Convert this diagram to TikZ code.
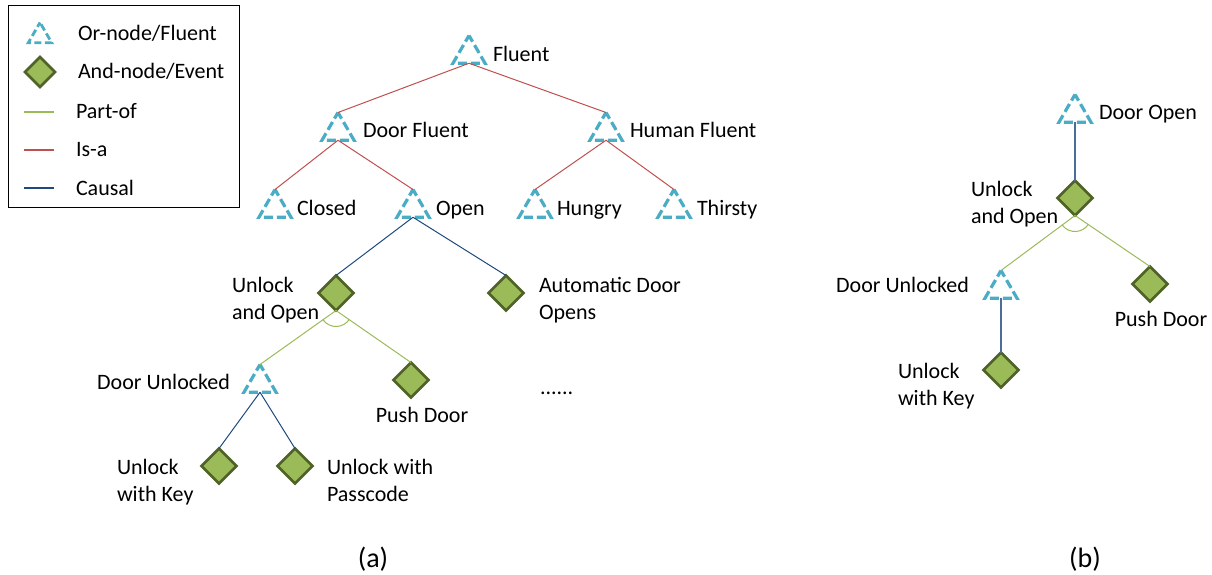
\documentclass[tikz,border=0pt]{standalone}
\usepackage{fontspec}
\setmainfont{Carlito}
\usetikzlibrary{shapes.geometric}
\definecolor{orcol}{HTML}{4BACC6}
\definecolor{andfill}{HTML}{9BBB59}
\definecolor{anddraw}{HTML}{4F6228}
\definecolor{isacol}{HTML}{C0504D}
\definecolor{causcol}{HTML}{1F497D}
\definecolor{partcol}{HTML}{9BBB59}
\begin{document}
\begin{tikzpicture}[x=1pt,y=-1pt,
  ornode/.style={regular polygon, regular polygon sides=3, minimum size=37pt, inner sep=0pt, outer sep=0pt, draw=orcol, line width=3.2pt, dash pattern=on 9pt off 4pt, dash phase=2pt},
  andnode/.style={diamond, minimum width=35pt, minimum height=35pt, inner sep=0pt, outer sep=0pt, draw=anddraw, fill=andfill, line width=2.8pt},
  lbl/.style={inner sep=0pt, outer sep=0pt, font=\fontsize{22}{27}\selectfont, align=left},
  captxt/.style={inner sep=0pt, outer sep=0pt, font=\fontsize{28}{32}\selectfont},
  isa/.style={draw=isacol, line width=1pt},
  causal/.style={draw=causcol, line width=1pt},
  partof/.style={draw=partcol, line width=1pt}]
\useasboundingbox (0,0) rectangle (1212,575);

% legend
\node[draw=black, line width=1pt, minimum width=231pt, minimum height=202pt, inner sep=0pt, anchor=north west] (legend) at (8,5) {};
\node[ornode, minimum size=27pt, line width=2.8pt, dash pattern=on 7pt off 3.5pt] (lgor) at (40,36) {};
\node[andnode, minimum width=30pt, minimum height=30pt] (lgand) at (40,72) {};
\coordinate (lgp1) at (24,112); \coordinate (lgp2) at (54,112);
\coordinate (lgi1) at (24,150); \coordinate (lgi2) at (54,150);
\coordinate (lgc1) at (24,188); \coordinate (lgc2) at (54,188);
\draw[partof, line width=1.6pt] (lgp1) -- (lgp2);
\draw[isa, line width=1.6pt] (lgi1) -- (lgi2);
\draw[causal, line width=1.6pt] (lgc1) -- (lgc2);
\node[lbl, anchor=base west] (lgort) at (78,41) {Or-node/Fluent};
\node[lbl, anchor=base west] (lgandt) at (78,79) {And-node/Event};
\node[lbl, anchor=base west] (lgpt) at (76,119) {Part-of};
\node[lbl, anchor=base west] (lgit) at (76,157) {Is-a};
\node[lbl, anchor=base west] (lgct) at (76,195) {Causal};

% tree (a)
\node[ornode] (fluent) at (469,54) {};
\node[ornode] (doorfl) at (338,131) {};
\node[ornode] (humanfl) at (606,131) {};
\node[ornode] (closed) at (275,208) {};
\node[ornode] (open) at (413,208) {};
\node[ornode] (hungry) at (535,208) {};
\node[ornode] (thirsty) at (674,208) {};
\node[andnode] (uo) at (336,293) {};
\node[andnode] (auto) at (506,293) {};
\node[ornode] (du) at (260,383) {};
\node[andnode] (push) at (411,380) {};
\node[andnode] (key) at (219,466) {};
\node[andnode] (pass) at (295,466) {};

\node[lbl, anchor=base west] (fluentT) at (493,62) {Fluent};
\node[lbl, anchor=base west] (doorflT) at (363,138) {Door Fluent};
\node[lbl, anchor=base west] (humanflT) at (630,138) {Human Fluent};
\node[lbl, anchor=base west] (closedT) at (297,215) {Closed};
\node[lbl, anchor=base west] (openT) at (436,215) {Open};
\node[lbl, anchor=base west] (hungryT) at (557,215) {Hungry};
\node[lbl, anchor=base west] (thirstyT) at (697,215) {Thirsty};
\node[lbl, anchor=base west] (uoT) at (232,319) {Unlock\\and Open};
\node[lbl, anchor=base west] (autoT) at (539,319) {Automatic Door\\Opens};
\node[lbl, anchor=base east] (duT) at (230,389) {Door Unlocked};
\node[lbl, anchor=base] (pushT) at (422,422) {Push Door};
\node[lbl, anchor=base west] (keyT) at (117,501) {Unlock\\with Key};
\node[lbl, anchor=base west] (passT) at (327,501) {Unlock with\\Passcode};
\node[lbl, anchor=base west] (dots) at (540,394) {......};
\node[captxt, anchor=base] (capa) at (373,567) {(a)};

\draw[isa] (fluent.side 2) -- (doorfl.corner 1);
\draw[isa] (fluent.side 2) -- (humanfl.corner 1);
\draw[isa] (doorfl.side 2) -- (closed.corner 1);
\draw[isa] (doorfl.side 2) -- (open.corner 1);
\draw[isa] (humanfl.side 2) -- (hungry.corner 1);
\draw[isa] (humanfl.side 2) -- (thirsty.corner 1);
\draw[causal] (open.side 2) -- (uo.north);
\draw[causal] (open.side 2) -- (auto.north);
\draw[partof] (uo.south) -- (du.corner 1);
\draw[partof] (uo.south) -- (push.north);
\draw[partof] ([shift={(146:16)}]uo.south) arc[start angle=146, end angle=33, radius=16];
\draw[causal] (du.side 2) -- (key.north);
\draw[causal] (du.side 2) -- (pass.north);

% tree (b)
\node[ornode] (bopen) at (1075,113) {};
\node[andnode] (buo) at (1075,198) {};
\node[ornode] (bdu) at (1001,289) {};
\node[andnode] (bpush) at (1150,284) {};
\node[andnode] (bkey) at (1001,370) {};

\node[lbl, anchor=base west] (bopenT) at (1099,120) {Door Open};
\node[lbl, anchor=base west] (buoT) at (971,223) {Unlock\\and Open};
\node[lbl, anchor=base east] (bduT) at (969,292) {Door Unlocked};
\node[lbl, anchor=base] (bpushT) at (1161,326) {Push Door};
\node[lbl, anchor=base west] (bkeyT) at (898,405) {Unlock\\with Key};
\node[captxt, anchor=base] (capb) at (1085,567) {(b)};

\draw[causal, line width=1.3pt, draw=causcol!80] (bopen.side 2) -- (buo.north);
\draw[partof] (buo.south) -- (bdu.corner 1);
\draw[partof] (buo.south) -- (bpush.north);
\draw[partof] ([shift={(145:16)}]buo.south) arc[start angle=145, end angle=33, radius=16];
\draw[causal, line width=1.3pt, draw=causcol!80] (bdu.side 2) -- (bkey.north);
\end{tikzpicture}
\end{document}
